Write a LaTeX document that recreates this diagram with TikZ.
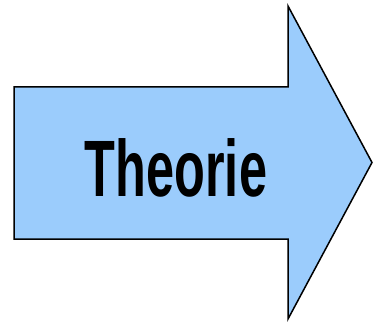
\documentclass[tikz,border=0pt]{standalone}
\usepackage{fontspec}
\setmainfont{Liberation Sans}
\usetikzlibrary{positioning}
\definecolor{pfeilblau}{RGB}{155,204,252}

\begin{document}
\begin{tikzpicture}[
			x=1pt, y=-1pt,
			pfeil/.style={
				draw=black,
				fill=pfeilblau,
				line width=1.5pt,
				line join=miter
			},
			titel/.style={
				font=\fontsize{80}{80}\selectfont\bfseries,
				inner sep=0pt,
				anchor=base
			}
			]
			
			\useasboundingbox (0,0) rectangle (374,323);
			
			\draw[pfeil] (14,87) -- (288,87) -- (288,6) -- (372,162.5)
				-- (288,319) -- (288,239) -- (14,239) -- cycle;
			
			\node[titel] (theorie) at (176,196) {\scalebox{0.63}[1]{Theorie}};
			
		\end{tikzpicture}
\end{document}
